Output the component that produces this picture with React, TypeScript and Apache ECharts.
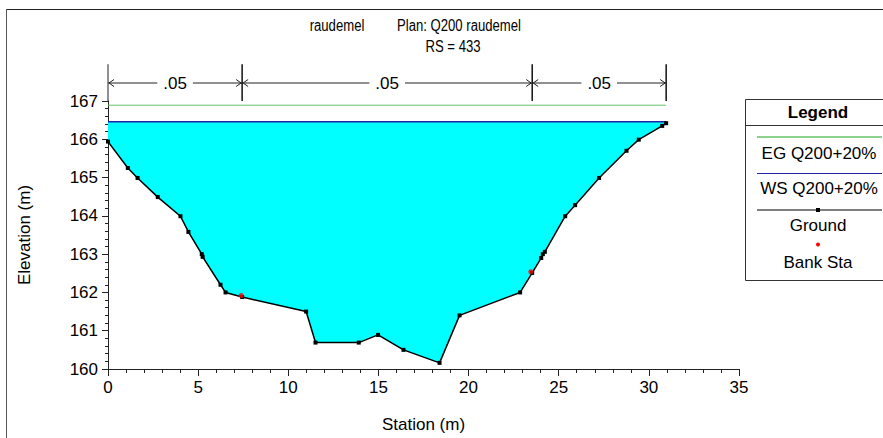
import React, { useEffect, useRef } from "react";
import * as echarts from "echarts";

// Ground profile (station m, elevation m)
const groundStations = [
  0, 1.1, 1.64, 2.76, 4.02, 4.46, 5.2, 5.25, 6.24, 6.52, 7.44, 10.99, 11.51,
  13.91, 14.98, 16.39, 18.39, 19.5, 22.86, 23.53, 24.03, 24.12, 24.23, 25.36,
  25.91, 27.24, 28.76, 29.44, 30.74, 30.96,
];
const groundElevations = [
  165.94, 165.25, 164.99, 164.49, 163.99, 163.58, 163.0, 162.93, 162.2, 162.0,
  161.88, 161.5, 160.69, 160.69, 160.89, 160.5, 160.16, 161.4, 162.0, 162.51,
  162.9, 163.0, 163.06, 163.99, 164.28, 164.99, 165.7, 165.99, 166.35, 166.42,
];

// Bank stations
const bankStations = [7.39, 23.45];
const bankElevations = [161.92, 162.54];

// Water surface and energy grade
const wsElevation = 166.46;
const egElevation = 166.89;

// Manning's n regions
const nBreakStations = [0, 7.44, 23.53, 30.96];
const nValues = [".05", ".05", ".05"];

const xTicks = { min: 0, max: 35, interval: 5 };
const yTicks = { min: 160, max: 167, interval: 1 };

const FONT = "Liberation Sans, Arial, sans-serif";

export default function App() {
  const ref = useRef<HTMLDivElement>(null);

  useEffect(() => {
    if (!ref.current) return;
    const chart = echarts.init(ref.current, undefined, { renderer: "svg" });

    const first = groundStations[0];
    const last = groundStations[groundStations.length - 1];
    const groundData = groundStations.map((s, i) => [s, groundElevations[i]]);
    const bankData = bankStations.map((s, i) => [s, bankElevations[i]]);
    const nSegments = nValues.map((n, i) => [nBreakStations[i], nBreakStations[i + 1], i]);

    // n-value dimension marks sit just above the plot
    const ARROW_Y = 167.47;
    const MARK_TOP = 167.96;
    const MARK_BOTTOM = 167.0;

    // condensed heading text
    const titleText = (text: string, x: number, y: number) => ({
      type: "text",
      x,
      y,
      scaleX: 0.82,
      style: { text, font: `16px ${FONT}`, fill: "#000", align: "center", verticalAlign: "middle" },
    });

    const option: any = {
      animation: false,
      textStyle: { fontFamily: FONT },
      grid: { left: 108, top: 101, right: 144, bottom: 68 },
      xAxis: {
        type: "value",
        min: xTicks.min,
        max: xTicks.max,
        interval: xTicks.interval,
        name: "Station (m)",
        nameLocation: "middle",
        nameGap: 47,
        nameTextStyle: { fontSize: 17, color: "#000", fontFamily: FONT },
        axisLine: { show: true, lineStyle: { color: "#222", width: 1 } },
        axisTick: { show: true, length: 7, lineStyle: { color: "#222" } },
        minorTick: { show: true, splitNumber: 5, length: 4, lineStyle: { color: "#222" } },
        splitLine: { show: false },
        axisLabel: { fontSize: 17, color: "#000", margin: 10, fontFamily: FONT },
      },
      yAxis: {
        type: "value",
        min: yTicks.min,
        max: yTicks.max,
        interval: yTicks.interval,
        name: "Elevation (m)",
        nameLocation: "middle",
        nameGap: 75,
        nameTextStyle: { fontSize: 17, color: "#000", fontFamily: FONT },
        axisLine: { show: true, lineStyle: { color: "#222", width: 1 } },
        axisTick: { show: true, length: 6, lineStyle: { color: "#222" } },
        minorTick: { show: true, splitNumber: 5, length: 3, lineStyle: { color: "#222" } },
        splitLine: { show: false },
        axisLabel: { fontSize: 17, color: "#000", margin: 10, fontFamily: FONT },
      },
      series: [
        {
          // water area between the surface and the ground
          type: "custom",
          name: "water",
          silent: true,
          z: 1,
          data: [[first, wsElevation]],
          renderItem: (params: any, api: any) => {
            const pts = [api.coord([first, wsElevation])];
            groundData.forEach((p) => pts.push(api.coord(p)));
            pts.push(api.coord([last, wsElevation]));
            return { type: "polygon", shape: { points: pts }, style: { fill: "#00ffff" } };
          },
        },
        {
          type: "line",
          name: "EG Q200+20%",
          data: [[first, egElevation], [last, egElevation]],
          symbol: "none",
          z: 3,
          lineStyle: { color: "#66c266", width: 1 },
        },
        {
          type: "line",
          name: "WS Q200+20%",
          data: [[first, wsElevation], [last, wsElevation]],
          symbol: "none",
          z: 3,
          lineStyle: { color: "#2222aa", width: 1.5 },
        },
        {
          type: "line",
          name: "Ground",
          data: groundData,
          symbol: "rect",
          symbolSize: 4,
          z: 4,
          itemStyle: { color: "#000" },
          lineStyle: { color: "#000", width: 1.5 },
        },
        {
          type: "scatter",
          name: "Bank Sta",
          data: bankData,
          symbol: "circle",
          symbolSize: 5,
          z: 5,
          itemStyle: { color: "#ff0000" },
        },
        {
          type: "custom",
          name: "n values",
          clip: false,
          silent: true,
          z: 6,
          data: nSegments,
          renderItem: (params: any, api: any) => {
            const x0 = api.value(0);
            const x1 = api.value(1);
            const idx = api.value(2);
            const [px0, py] = api.coord([x0, ARROW_Y]);
            const [px1] = api.coord([x1, ARROW_Y]);
            const top = api.coord([x1, MARK_TOP])[1];
            const bot = api.coord([x1, MARK_BOTTOM])[1];
            const stroke = { stroke: "#222", lineWidth: 1, fill: "none" };
            const a = 6;
            const h = 3.5;
            const children: any[] = [
              { type: "line", shape: { x1: px0, y1: py, x2: px1, y2: py }, style: stroke },
              {
                type: "polyline",
                shape: { points: [[px0 + a, py - h], [px0 + 1, py], [px0 + a, py + h]] },
                style: stroke,
              },
              {
                type: "polyline",
                shape: { points: [[px1 - a, py - h], [px1 - 1, py], [px1 - a, py + h]] },
                style: stroke,
              },
              {
                type: "line",
                shape: { x1: px1, y1: top, x2: px1, y2: bot },
                style: { stroke: "#111", lineWidth: 1.5 },
              },
              {
                type: "text",
                x: (px0 + px1) / 2,
                y: py,
                style: {
                  text: nValues[idx],
                  font: `17px ${FONT}`,
                  fill: "#000",
                  align: "center",
                  verticalAlign: "middle",
                  backgroundColor: "#fff",
                  padding: [0, 6],
                },
              },
            ];
            if (idx === 0) {
              children.push({
                type: "line",
                shape: { x1: px0, y1: top, x2: px0, y2: bot },
                style: { stroke: "#222", lineWidth: 1 },
              });
            }
            return { type: "group", children };
          },
        },
      ],
      graphic: [
        // outer frame
        { type: "line", shape: { x1: 6, y1: 9.5, x2: 883, y2: 9.5 }, style: { stroke: "#222", lineWidth: 1 } },
        { type: "line", shape: { x1: 6.5, y1: 9, x2: 6.5, y2: 438 }, style: { stroke: "#555", lineWidth: 1 } },
        // headings
        titleText("raudemel", 337, 26),
        titleText("Plan: Q200 raudemel", 459, 26),
        titleText("RS = 433", 453, 47),
        // legend box
        {
          type: "group",
          children: [
            { type: "rect", shape: { x: 745.5, y: 99.5, width: 160, height: 181 }, style: { fill: "#fff", stroke: "#333", lineWidth: 1 } },
            { type: "line", shape: { x1: 745, y1: 125.5, x2: 883, y2: 125.5 }, style: { stroke: "#333", lineWidth: 1 } },
            { type: "text", x: 818, y: 112, style: { text: "Legend", font: `bold 17px ${FONT}`, fill: "#000", align: "center", verticalAlign: "middle" } },
            { type: "line", shape: { x1: 757, y1: 137, x2: 882, y2: 137 }, style: { stroke: "#66c266", lineWidth: 1.5 } },
            { type: "text", x: 819, y: 153, style: { text: "EG Q200+20%", font: `17px ${FONT}`, fill: "#000", align: "center", verticalAlign: "middle" } },
            { type: "line", shape: { x1: 757, y1: 173.5, x2: 882, y2: 173.5 }, style: { stroke: "#2222aa", lineWidth: 1.2 } },
            { type: "text", x: 819, y: 188, style: { text: "WS Q200+20%", font: `17px ${FONT}`, fill: "#000", align: "center", verticalAlign: "middle" } },
            { type: "line", shape: { x1: 757, y1: 210, x2: 882, y2: 210 }, style: { stroke: "#000", lineWidth: 1.2 } },
            { type: "rect", shape: { x: 816, y: 208, width: 4, height: 4 }, style: { fill: "#000" } },
            { type: "text", x: 818, y: 225, style: { text: "Ground", font: `17px ${FONT}`, fill: "#000", align: "center", verticalAlign: "middle" } },
            { type: "circle", shape: { cx: 818, cy: 244.5, r: 2 }, style: { fill: "#ff0000" } },
            { type: "text", x: 818, y: 262, style: { text: "Bank Sta", font: `17px ${FONT}`, fill: "#000", align: "center", verticalAlign: "middle" } },
          ],
        },
      ],
    };

    chart.setOption(option);
    return () => chart.dispose();
  }, []);

  return (
    <div
      ref={ref}
      style={{ position: "fixed", left: 0, top: 0, width: 883, height: 438, background: "#fff" }}
    />
  );
}
